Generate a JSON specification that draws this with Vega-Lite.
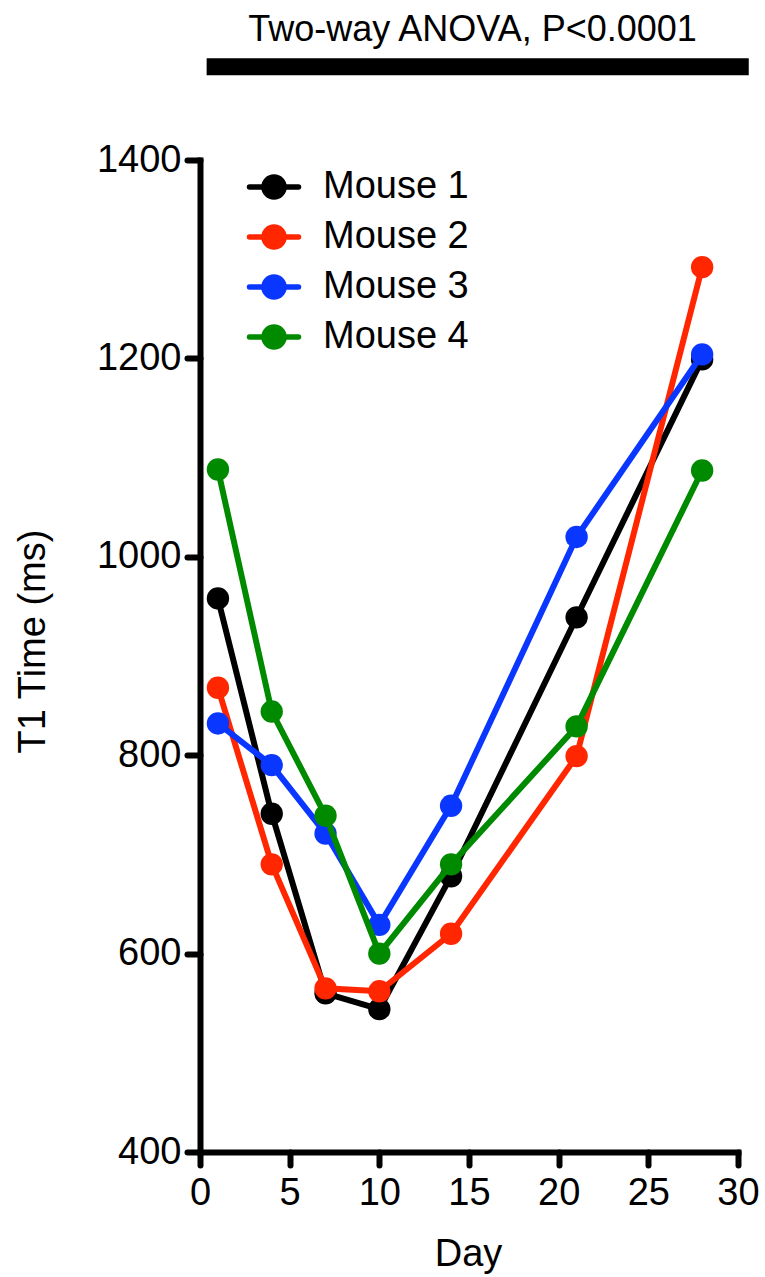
{
  "$schema": "https://vega.github.io/schema/vega-lite/v6.json",
  "width": 538,
  "height": 992,
  "autosize": {"type": "none"},
  "padding": {"left": 200, "top": 160, "right": 27, "bottom": 125},
  "background": "white",
  "config": {
    "view": {"stroke": null},
    "font": "Liberation Sans",
    "axis": {
      "domainColor": "black",
      "domainWidth": 6,
      "domainCap": "square",
      "tickColor": "black",
      "tickWidth": 6,
      "tickSize": 13,
      "tickCap": "round",
      "labelFontSize": 38,
      "labelFont": "Liberation Sans",
      "labelColor": "black",
      "labelFlush": false,
      "labelOverlap": false,
      "titleFont": "Liberation Sans",
      "titleFontSize": 38,
      "titleFontWeight": "normal",
      "titleColor": "black",
      "grid": false
    }
  },
  "data": {
    "values": [
      {"mouse": "Mouse 1", "day": 1, "t1": 958},
      {"mouse": "Mouse 1", "day": 4, "t1": 741},
      {"mouse": "Mouse 1", "day": 7, "t1": 560},
      {"mouse": "Mouse 1", "day": 10, "t1": 544},
      {"mouse": "Mouse 1", "day": 14, "t1": 678},
      {"mouse": "Mouse 1", "day": 21, "t1": 939},
      {"mouse": "Mouse 1", "day": 28, "t1": 1199},
      {"mouse": "Mouse 2", "day": 1, "t1": 868},
      {"mouse": "Mouse 2", "day": 4, "t1": 690},
      {"mouse": "Mouse 2", "day": 7, "t1": 565},
      {"mouse": "Mouse 2", "day": 10, "t1": 562},
      {"mouse": "Mouse 2", "day": 14, "t1": 620},
      {"mouse": "Mouse 2", "day": 21, "t1": 799},
      {"mouse": "Mouse 2", "day": 28, "t1": 1292},
      {"mouse": "Mouse 3", "day": 1, "t1": 832},
      {"mouse": "Mouse 3", "day": 4, "t1": 790},
      {"mouse": "Mouse 3", "day": 7, "t1": 721},
      {"mouse": "Mouse 3", "day": 10, "t1": 629},
      {"mouse": "Mouse 3", "day": 14, "t1": 749},
      {"mouse": "Mouse 3", "day": 21, "t1": 1020},
      {"mouse": "Mouse 3", "day": 28, "t1": 1204},
      {"mouse": "Mouse 4", "day": 1, "t1": 1088},
      {"mouse": "Mouse 4", "day": 4, "t1": 844},
      {"mouse": "Mouse 4", "day": 7, "t1": 739},
      {"mouse": "Mouse 4", "day": 10, "t1": 600},
      {"mouse": "Mouse 4", "day": 14, "t1": 690},
      {"mouse": "Mouse 4", "day": 21, "t1": 829},
      {"mouse": "Mouse 4", "day": 28, "t1": 1087}
    ]
  },
  "layer": [
    {
      "encoding": {
        "x": {
          "field": "day", "type": "quantitative",
          "scale": {"domain": [0, 30], "nice": false, "zero": false},
          "axis": {"values": [0, 5, 10, 15, 20, 25, 30], "format": "d", "title": "Day", "labelPadding": 9, "titleX": 268, "titleY": 113, "titleBaseline": "alphabetic", "titleAlign": "center"}
        },
        "y": {
          "field": "t1", "type": "quantitative",
          "scale": {"domain": [400, 1400], "nice": false, "zero": false},
          "axis": {"values": [400, 600, 800, 1000, 1200, 1400], "format": "d", "title": "T1 Time (ms)", "labelPadding": 6, "titleX": -156, "titleY": 481, "titleAngle": -90, "titleBaseline": "alphabetic", "titleAlign": "center"}
        },
        "color": {
          "field": "mouse", "type": "nominal",
          "scale": {"domain": ["Mouse 1", "Mouse 2", "Mouse 3", "Mouse 4"], "range": ["#000000", "#FF2600", "#0A37FF", "#008A00"]},
          "legend": {
            "title": null,
            "orient": "none",
            "legendX": 51,
            "legendY": 4,
            "padding": 0,
            "symbolType": "M-1.225,0L1.225,0M0.5,0A0.5,0.5,0,1,1,-0.5,0A0.5,0.5,0,1,1,0.5,0Z",
            "symbolSize": 1600,
            "symbolStrokeWidth": 5,
            "labelFontSize": 38,
            "labelFont": "Liberation Sans",
            "labelColor": "black",
            "labelOffset": 26,
            "rowPadding": 6,
            "encode": {
              "symbols": {
                "update": {
                  "fill": {"scale": "color", "field": "value"},
                  "stroke": {"scale": "color", "field": "value"},
                  "strokeWidth": {"value": 5.5},
                  "strokeCap": {"value": "round"},
                  "opacity": {"value": 1}
                }
              }
            }
          }
        }
      },
      "layer": [
        {
          "transform": [{"filter": "datum.mouse === 'Mouse 1'"}],
          "mark": {"type": "line", "strokeWidth": 6, "point": {"filled": true, "size": 500, "opacity": 1}}
        },
        {
          "transform": [{"filter": "datum.mouse === 'Mouse 2'"}],
          "mark": {"type": "line", "strokeWidth": 6, "point": {"filled": true, "size": 500, "opacity": 1}}
        },
        {
          "transform": [{"filter": "datum.mouse === 'Mouse 3'"}],
          "mark": {"type": "line", "strokeWidth": 6, "point": {"filled": true, "size": 500, "opacity": 1}}
        },
        {
          "transform": [{"filter": "datum.mouse === 'Mouse 4'"}],
          "mark": {"type": "line", "strokeWidth": 6, "point": {"filled": true, "size": 500, "opacity": 1}}
        }
      ]
    },
    {
      "data": {"values": [{}]},
      "mark": {"type": "rule", "strokeWidth": 17, "color": "black", "strokeCap": "butt"},
      "encoding": {
        "x": {"datum": 0.37, "type": "quantitative"},
        "x2": {"datum": 30.6},
        "y": {"datum": 1494, "type": "quantitative"}
      }
    },
    {
      "data": {"values": [{}]},
      "mark": {"type": "text", "fontSize": 36, "font": "Liberation Sans", "color": "black", "align": "center", "baseline": "alphabetic", "text": "Two-way ANOVA, P<0.0001"},
      "encoding": {
        "x": {"datum": 15.2, "type": "quantitative"},
        "y": {"datum": 1520, "type": "quantitative"}
      }
    }
  ]
}
